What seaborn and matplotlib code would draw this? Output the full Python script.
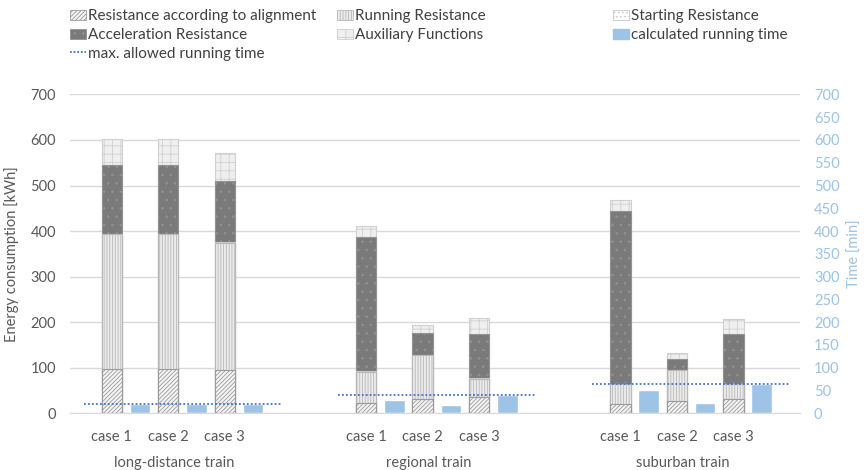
import numpy as np
import pandas as pd
import matplotlib
matplotlib.use("Agg")
import matplotlib.pyplot as plt
import seaborn as sns
from matplotlib.patches import Patch
from matplotlib.lines import Line2D

# Daten
trains = ["long-distance train", "regional train", "suburban train"]
cases = ["case 1", "case 2", "case 3"]

alignment = [96, 96, 94, 23, 30, 36, 20, 26, 32]
running = [297, 297, 280, 68, 97, 40, 44, 68, 32]
starting = [1, 1, 1, 1, 1, 1, 1, 1, 1]
acceleration = [150, 150, 135, 294, 49, 97, 378, 23, 109]
auxiliary = [58, 58, 62, 26, 17, 35, 26, 14, 32]

run_time = [19, 19, 19, 29, 18, 39, 50, 22, 65]
max_time = [20, 39, 64]

# x-Positionen: 3 Fälle je Zug, Lücke zwischen den Gruppen
group_start = [0.0, 4.5, 9.0]
xpos = [g + i for g in group_start for i in range(len(cases))]

df = pd.DataFrame({
    "x": xpos,
    "x_time": [x + 0.5 for x in xpos],
    "alignment": alignment,
    "running": running,
    "starting": starting,
    "acceleration": acceleration,
    "auxiliary": auxiliary,
    "time": run_time,
})
layers = ["alignment", "running", "starting", "acceleration", "auxiliary"]
cum = df[layers].cumsum(axis=1)

styles = {
    "alignment": dict(color="#f4f4f4", hatch="////////", edgecolor="#9a9a9a"),
    "running": dict(color="#ebebeb", hatch="||||||", edgecolor="#b8b8b8"),
    "starting": dict(color="#ffffff", hatch="....", edgecolor="#c8c8c8"),
    "acceleration": dict(color="#7a7a7a", hatch="..", edgecolor="#929292"),
    "auxiliary": dict(color="#efefef", hatch="++", edgecolor="#d0d0d0"),
}
labels = {
    "alignment": "Resistance according to alignment",
    "running": "Running Resistance",
    "starting": "Starting Resistance",
    "acceleration": "Acceleration Resistance",
    "auxiliary": "Auxiliary Functions",
}
blue = "#9dc3e6"
line_blue = "#4472c4"
txt = "#595959"

sns.set_style("white")
plt.rcParams["font.family"] = ["Lato", "DejaVu Sans"]
plt.rcParams["hatch.linewidth"] = 0.6

fig = plt.figure(figsize=(8.64, 4.70), dpi=100)
ax = fig.add_axes([0.081, 0.121, 0.845, 0.678])

# gestapelte Balken: von oben nach unten übereinander zeichnen
for layer in reversed(layers):
    st = styles[layer]
    sns.barplot(x=df["x"], y=cum[layer], native_scale=True, ax=ax,
                width=0.36, saturation=1, errorbar=None,
                color=st["color"], hatch=st["hatch"],
                edgecolor=st["edgecolor"], linewidth=0.8, zorder=2)

ax.set_ylim(0, 700)
ax.set_xlim(-0.74, 12.18)
ax.set_yticks(range(0, 701, 100))
ax.yaxis.grid(True, color="#d9d9d9", linewidth=1)
ax.set_axisbelow(True)
for s in ["top", "right", "left"]:
    ax.spines[s].set_visible(False)
ax.spines["bottom"].set_color("#d9d9d9")
ax.set_xticks(xpos)
ax.set_xticklabels(cases * 3)
ax.tick_params(axis="both", length=0, labelsize=10.5, colors=txt)
ax.tick_params(axis="x", pad=12)
ax.tick_params(axis="y", pad=10)
ax.set_xlabel("")
ax.set_ylabel("Energy consumption [kWh]", fontsize=10.5, color=txt, labelpad=8)

for g, name in zip(group_start, trains):
    ax.text(g + 1.1, -0.155, name, transform=ax.get_xaxis_transform(),
            ha="center", va="center", fontsize=10.5, color=txt)

# Sekundärachse: Fahrzeit
ax2 = ax.twinx()
sns.barplot(x=df["x_time"], y=df["time"], native_scale=True, ax=ax2,
            width=0.36, saturation=1, errorbar=None, color=blue, zorder=2)
ax2.hlines(max_time, [g - 0.5 for g in group_start], [g + 3.0 for g in group_start],
           colors=line_blue, linestyles=(0, (1, 1.2)), linewidth=1.3, zorder=3)
ax2.set_ylim(0, 700)
ax2.set_xlim(-0.74, 12.18)
ax2.set_yticks(range(0, 701, 50))
for s in ["top", "right", "left", "bottom"]:
    ax2.spines[s].set_visible(False)
ax2.tick_params(axis="y", length=0, labelsize=10.5, colors=blue, pad=10)
ax2.set_ylabel("Time [min]", fontsize=10.5, color=blue, labelpad=6)
ax2.set_xlabel("")

# Legende in drei Spalten
def mk(layer):
    st = styles[layer]
    return Patch(facecolor=st["color"], hatch=st["hatch"], edgecolor=st["edgecolor"],
                 linewidth=0.6, label=labels[layer])

cols = [
    ([mk("alignment"), mk("acceleration"),
      Line2D([], [], color=line_blue, linestyle=(0, (1, 1)), linewidth=1.3,
             label="max. allowed running time")], 0.081),
    ([mk("running"), mk("auxiliary")], 0.390),
    ([mk("starting"), Patch(facecolor=blue, edgecolor=blue, label="calculated running time")], 0.709),
]
for handles, x0 in cols:
    leg = fig.legend(handles=handles, loc="upper left", bbox_to_anchor=(x0, 0.98),
                     frameon=False, fontsize=11, handlelength=1.05, handleheight=0.65,
                     handletextpad=0.15, labelspacing=0.3, borderpad=0, borderaxespad=0)
    for t in leg.get_texts():
        t.set_color("#404040")

fig.savefig("out.png", dpi=100)
